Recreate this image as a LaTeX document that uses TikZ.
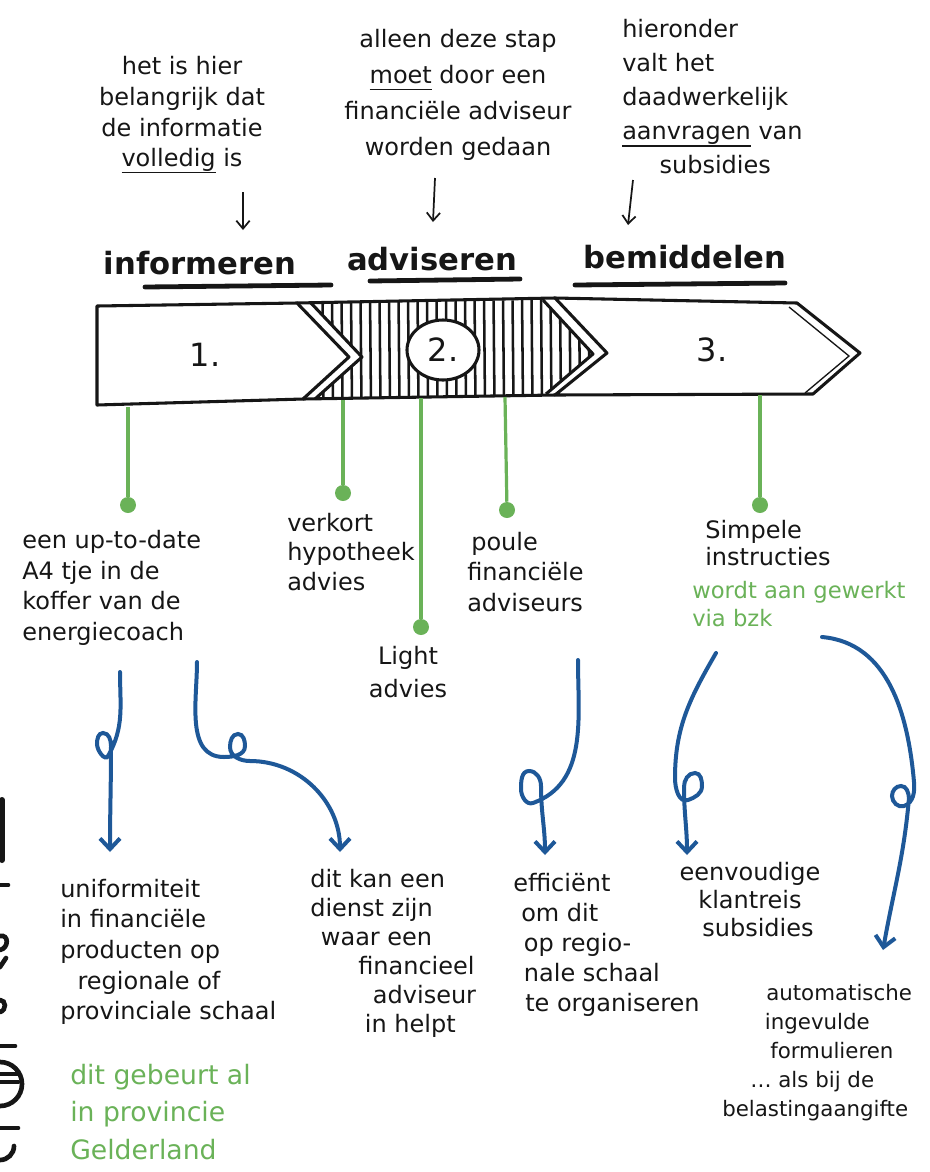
\documentclass[tikz,border=0pt]{standalone}
\usepackage{fontspec}
\setmainfont{DejaVu Sans}
\usetikzlibrary{arrows.meta,shapes.geometric}
\definecolor{ink}{RGB}{22,22,22}
\definecolor{leaf}{RGB}{106,178,88}
\definecolor{sea}{RGB}{30,88,152}
\newcommand\ulw[1]{\setbox0=\hbox{#1}\rlap{\rule[-5pt]{\wd0}{1.3pt}}#1}
\begin{document}
\begin{tikzpicture}[x=0.75pt,y=-0.75pt,
  txt/.style={text=ink, inner sep=0pt, align=left, font=\fontsize{18}{23}\selectfont},
  head/.style={text=ink, inner sep=0pt, font=\fontsize{23}{28}\selectfont\bfseries},
  num/.style={text=ink, inner sep=0pt, font=\fontsize{24}{28}\selectfont},
  hline/.style={draw=ink, line width=3.6pt, line cap=round},
  band/.style={draw=ink, line width=2.3pt, line join=round},
  hatch/.style={draw=ink, line width=1.9pt},
  note/.style={draw=ink, line width=1.3pt, -{Straight Barb[length=6pt,width=10pt]}},
  stem/.style={draw=leaf, line width=2.4pt},
  dot/.style={circle, fill=leaf, inner sep=0pt, minimum size=12pt},
  flow/.style={draw=sea, line width=3pt, line cap=round, -{Straight Barb[length=8pt,width=15pt]}},
  frag/.style={draw=ink, line width=3.5pt, line cap=round}]
\useasboundingbox (0,0) rectangle (930,1172);

% ---------- top annotations ----------
\node[txt, align=center] (t1) at (182,115) {het is hier\\belangrijk dat\\de informatie\\\ulw{volledig} is};
\node[txt, align=center, font=\fontsize{18}{27}\selectfont] (t2) at (458,95) {alleen deze stap\\\ulw{moet} door een\\financiële adviseur\\worden gedaan};
\node[txt, anchor=west, font=\fontsize{18}{25.5}\selectfont] (t3) at (622,97) {hieronder\\valt het\\daadwerkelijk\\\ulw{aanvragen} van\\\hspace*{28pt}subsidies};

\coordinate (p1) at (243,192); \coordinate (q1) at (243,230);
\coordinate (p2) at (435,178); \coordinate (q2) at (433,222);
\coordinate (p3) at (633,180); \coordinate (q3) at (628,225);
\draw[note] (p1) -- (q1);
\draw[note] (p2) -- (q2);
\draw[note] (p3) -- (q3);

% ---------- headers ----------
\node[head] (inf) at (200,263) {informeren};
\node[head] (adv) at (432,259) {adviseren};
\node[head] (bem) at (685,257) {bemiddelen};
\draw[hline] (145,287) -- (331,285);
\draw[hline] (370,281) -- (520,279);
\draw[hline] (575,285) -- (785,283);

% ---------- band ----------
\draw[band, fill=white] (97,306) -- (297,303) -- (349,357) -- (303,399) -- (97,405) -- cycle;
\begin{scope}
  \clip (310,302) -- (543,300) -- (593,354) -- (546,394) -- (315,399) -- (362,357) -- cycle;
  \foreach \x in {313,322.5,...,600} \draw[hatch] (\x,295) -- (\x+1,405);
\end{scope}
\draw[band] (297,303) -- (555,298);
\draw[band] (303,399) -- (555,395);
\draw[band] (310,302) -- (362,357) -- (315,399);
\draw[band] (543,300) -- (593,354) -- (546,394);
\draw[band, fill=white] (555,298) -- (797,303) -- (860,353) -- (813,394) -- (555,395) -- (607,353) -- cycle;
\draw[draw=ink, line width=1pt] (789,307) -- (849,356) -- (805,393);

\node[num] (n1) at (205,355) {1.};
\node[num, ellipse, draw=ink, fill=white, line width=2.3pt, minimum width=54pt, minimum height=45pt] (n2) at (443,350) {2.};
\node[num] (n3) at (712,350) {3.};

% ---------- green stems ----------
\node[dot] (d1) at (128,505) {};
\node[dot] (d2) at (343,493) {};
\node[dot] (d3) at (421,627) {};
\node[dot] (d4) at (507,510) {};
\node[dot] (d5) at (760,505) {};
\coordinate (s1) at (128,407);
\coordinate (s2) at (343,400);
\coordinate (s3) at (421,398);
\coordinate (s4) at (505,397);
\coordinate (s5) at (760,395);
\draw[stem] (s1) -- (d1);
\draw[stem] (s2) -- (d2);
\draw[stem] (s3) -- (d3);
\draw[stem] (s4) -- (d4);
\draw[stem] (s5) -- (d5);

% ---------- middle texts ----------
\node[txt, anchor=west] (b1) at (22,588) {een up-to-date\\A4 tje in de\\koffer van de\\energiecoach};
\node[txt, anchor=west, font=\fontsize{18}{22}\selectfont] (b2) at (287,552) {verkort\\hypotheek\\advies};
\node[txt, align=center, font=\fontsize{18}{25}\selectfont] (b3) at (408,672) {Light\\advies};
\node[txt, anchor=west] (b4) at (467,572) {\hspace*{3pt}poule\\financiële\\adviseurs};
\node[txt, anchor=west, font=\fontsize{18}{20}\selectfont] (b5) at (705,543) {Simpele\\instructies};
\node[txt, anchor=west, text=leaf, font=\fontsize{17}{21}\selectfont] (b5g) at (692,604) {wordt aan gewerkt\\via bzk};

% ---------- blue connectors ----------
\coordinate (u1) at (120,672); \coordinate (v1) at (110,852);
\coordinate (u2) at (197,662); \coordinate (v2) at (340,852);
\coordinate (u3) at (578,660); \coordinate (v3) at (545,855);
\coordinate (u4) at (716,653); \coordinate (v4) at (687,855);
\coordinate (u5) at (822,637); \coordinate (v5) at (883,950);
\draw[flow] (u1) to[out=-90,in=60] (108,756) to[out=240,in=-90] (97,744) to[out=90,in=180] (103,733) to[out=0,in=90] (111,746) to[out=-90,in=90] (v1);
\draw[flow] (u2) to[out=-90,in=180] (224,757) to[out=0,in=-90] (245,746) to[out=90,in=0] (238,734) to[out=180,in=90] (230,747) to[out=-90,in=180] (250,761) to[out=0,in=90] (v2);
\draw[flow] (u3) to[out=-90,in=20] (533,803) to[out=200,in=-90] (521,789) to[out=90,in=180] (529,771) to[out=0,in=90] (541,786) to[out=-90,in=90] (v3);
\draw[flow] (u4) to[out=240,in=90] (675,778) to[out=-90,in=200] (688,800) to[out=20,in=-90] (702,786) to[out=90,in=0] (695,773) to[out=180,in=90] (684,787) to[out=-90,in=90] (v4);
\draw[flow] (u5) to[out=-5,in=95] (914,782) to[out=-85,in=20] (904,806) to[out=200,in=-90] (892,796) to[out=90,in=180] (901,786) to[out=0,in=95] (909,798) to[out=-95,in=80] (v5);

% ---------- bottom texts ----------
\node[txt, anchor=west] (c1) at (60,952) {uniformiteit\\in financiële\\producten op\\\hspace*{13pt}regionale of\\provinciale schaal};
\node[txt, anchor=west, text=leaf, font=\fontsize{20}{28}\selectfont] (c1g) at (70,1112) {dit gebeurt al\\in provincie\\Gelderland};
\node[txt, anchor=west, font=\fontsize{18}{21.75}\selectfont] (c2) at (310,953) {dit kan een\\dienst zijn\\\hspace*{8pt}waar een\\\hspace*{36pt}financieel\\\hspace*{47pt}adviseur\\\hspace*{41pt}in helpt};
\node[txt, anchor=west, font=\fontsize{18}{22.5}\selectfont] (c3) at (513,945) {efficiënt\\\hspace*{6pt}om dit\\\hspace*{8pt}op regio-\\\hspace*{8pt}nale schaal\\\hspace*{9pt}te organiseren};
\node[txt, align=center, font=\fontsize{18}{21}\selectfont] (c4) at (750,900) {eenvoudige\\klantreis\\\hspace*{12pt}subsidies};
\node[txt, anchor=west, font=\fontsize{16}{21.75}\selectfont] (c5) at (722,1053) {\hspace*{33pt}automatische\\\hspace*{32pt}ingevulde\\\hspace*{36pt}formulieren\\\hspace*{21pt}\ldots{} als bij de\\belastingaangifte};

% ---------- fragments at the left edge ----------
\draw[frag, line width=4.5pt] (2,800) -- (2,860);
\draw[frag] (0,885) -- (8,885);
\draw[frag] (0,936) .. controls (9,934) and (9,948) .. (0,950);
\draw[frag] (0,967) -- (6,958);
\draw[frag] (0,1000) .. controls (6,1000) and (7,1010) .. (0,1012);
\draw[frag] (0,1046) -- (15,1046);
\draw[frag] (0,1074) -- (18,1074);
\draw[frag] (0,1082) -- (18,1082);
\draw[frag] (0,1106) arc[start angle=90,end angle=-90,radius=22];
\draw[frag] (0,1128) -- (18,1128);
\draw[frag] (0,1160) arc[start angle=90,end angle=0,radius=14];
\end{tikzpicture}
\end{document}
